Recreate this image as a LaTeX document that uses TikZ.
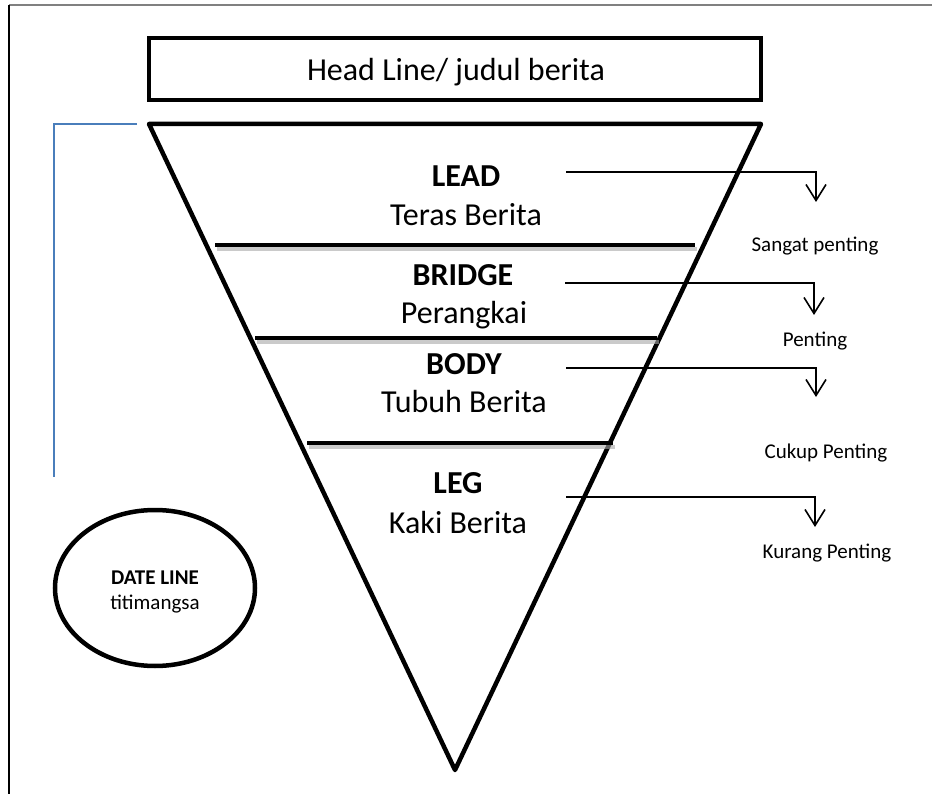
\documentclass[tikz,border=0pt]{standalone}
\usepackage{fontspec}
\setmainfont{Carlito}
\usetikzlibrary{arrows.meta,shapes.geometric}
\definecolor{bracketblue}{RGB}{74,126,187}
\definecolor{framegray}{RGB}{128,128,128}
\tikzset{
  thick line/.style={line width=4.5pt},
  bigtxt/.style={inner sep=0pt, anchor=base, font=\fontsize{32}{36}\selectfont},
  bigbold/.style={bigtxt, font=\fontsize{32}{36}\selectfont\bfseries},
  smalltxt/.style={inner sep=0pt, anchor=base, font=\fontsize{21}{24}\selectfont},
  separator/.style={line width=4.5pt, line cap=butt},
  sepshadow/.style={line width=4pt, draw=black!35, opacity=0.6},
  levelarrow/.style={line width=1.4pt, -{Straight Barb[length=16pt,width=20pt,line width=1.6pt]}},
}
\begin{document}
\begin{tikzpicture}[x=1pt,y=-1pt]
\useasboundingbox (0,0) rectangle (932,794);
% frame
\draw[framegray, line width=2pt] (9,5) -- (932,5);
\draw[black, line width=1.1pt] (9,5) -- (9,794);
% headline box
\node[draw, line width=4.5pt, minimum width=612pt, minimum height=62pt, inner sep=0pt] (head) at (455,69) {};
\node[bigtxt] (headtxt) at (456,81) {Head Line/ judul berita};
% triangle
\coordinate (tl) at (149,124);
\coordinate (tr) at (761,124);
\coordinate (tb) at (455,770);
\draw[thick line, line join=round] (tl) -- (tr) -- (tb) -- cycle;
% separators with shadows
\coordinate (s1l) at (215,245); \coordinate (s1r) at (695,245);
\coordinate (s2l) at (255,338); \coordinate (s2r) at (657,338);
\coordinate (s3l) at (307,443); \coordinate (s3r) at (613,443);
\foreach \a/\b in {s1l/s1r,s2l/s2r,s3l/s3r}{
  \draw[sepshadow] ([shift={(2,4)}]\a) -- ([shift={(2,4)}]\b);
  \draw[separator] (\a) -- (\b);
}
% section texts
\node[bigbold] (lead) at (466,187) {LEAD};
\node[bigtxt] (teras) at (466,226) {Teras Berita};
\node[bigbold] (bridge) at (463,286) {BRIDGE};
\node[bigtxt] (perangkai) at (464,324) {Perangkai};
\node[bigbold] (body) at (464,374) {BODY};
\node[bigtxt] (tubuh) at (464,412) {Tubuh Berita};
\node[bigbold] (leg) at (458,493) {LEG};
\node[bigtxt] (kaki) at (458,533) {Kaki Berita};
% level arrows
\coordinate (a1s) at (566,172); \coordinate (a1e) at (816,202);
\coordinate (a2s) at (565,283); \coordinate (a2e) at (814,315);
\coordinate (a3s) at (566,368); \coordinate (a3e) at (816,397);
\coordinate (a4s) at (566,497); \coordinate (a4e) at (815,527);
\draw[levelarrow] (a1s) -| (a1e);
\draw[levelarrow] (a2s) -| (a2e);
\draw[levelarrow] (a3s) -| (a3e);
\draw[levelarrow] (a4s) -| (a4e);
% level labels
\node[smalltxt] (l1) at (815,252) {Sangat penting};
\node[smalltxt] (l2) at (815,347) {Penting};
\node[smalltxt] (l3) at (826,458) {Cukup Penting};
\node[smalltxt] (l4) at (827,558) {Kurang Penting};
% blue bracket
\coordinate (b1) at (137,124); \coordinate (b2) at (54,124); \coordinate (b3) at (54,477);
\draw[bracketblue, line width=1.5pt] (b1) -- (b2) -- (b3);
% date line ellipse
\node[draw, ellipse, line width=4.5pt, minimum width=200pt, minimum height=156pt, inner sep=0pt] (date) at (155,588) {};
\node[inner sep=0pt, anchor=base, font=\fontsize{21}{24}\selectfont\bfseries] (datet) at (155,584) {DATE LINE};
\node[inner sep=0pt, anchor=base, font=\fontsize{21}{24}\selectfont] (datet2) at (155,609) {titimangsa};
\end{tikzpicture}
\end{document}
